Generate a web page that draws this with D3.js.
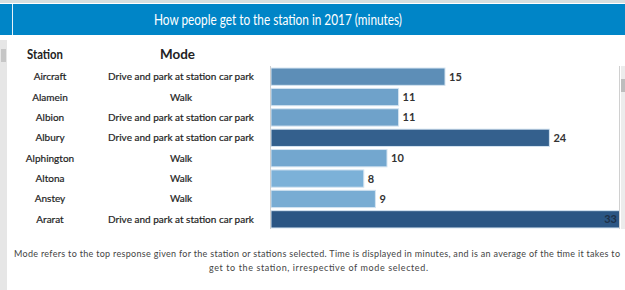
<!DOCTYPE html>
<html>
<head>
<meta charset="utf-8">
<script src="https://cdn.jsdelivr.net/npm/d3@7"></script>
<style>
  body { margin: 0; background: #fff; }
  svg { display: block; }
  text { font-family: "Lato", "Liberation Sans", sans-serif; }
</style>
</head>
<body>
<svg id="chart" width="625" height="290"></svg>
<script>
// data
var stations = ["Aircraft", "Alamein", "Albion", "Albury", "Alphington", "Altona", "Anstey", "Ararat"];
var modes = ["Drive and park at station car park", "Walk", "Drive and park at station car park",
    "Drive and park at station car park", "Walk", "Walk", "Walk", "Drive and park at station car park"];
var minutes = [15, 11, 11, 24, 10, 8, 9, 33];

var titleText = "How people get to the station in 2017 (minutes)";
var noteLines = ["Mode refers to the top response given for the station or stations selected. Time is displayed in minutes, and is an average of the time it takes to",
    "get to the station, irrespective of mode selected."];

var svg = d3.select("#chart");
var W = 625, H = 290;

var rows = stations.map(function (s, i) {
    return {station: s, mode: modes[i], value: minutes[i]};
});

// top strip + header band
svg.append("rect").attr("x", 0).attr("y", 0).attr("width", W).attr("height", 3).attr("fill", "#d6dedf");
svg.append("rect").attr("x", 0).attr("y", 4).attr("width", W).attr("height", 31).attr("fill", "#0085c7");
svg.append("rect").attr("x", 12).attr("y", 4).attr("width", 1).attr("height", 31).attr("fill", "#e8f2f8");
svg.append("text")
    .attr("x", 154).attr("y", 25)
    .attr("fill", "#fff")
    .attr("font-size", 14.5)
    .attr("textLength", 248)
    .attr("lengthAdjust", "spacingAndGlyphs")
    .text(titleText);

// left scroll strip
svg.append("rect").attr("x", 0).attr("y", 40).attr("width", 7).attr("height", H - 40).attr("fill", "#e6e6e6");
svg.append("rect").attr("x", 1).attr("y", 49).attr("width", 5).attr("height", 13).attr("fill", "#c6c6c6");

var y = d3.scaleBand()
    .domain(stations)
    .range([67, 229])
    .paddingInner(0.15)
    .paddingOuter(0.05);

var x = d3.scaleLinear()
    .domain([0, 15])
    .range([271, 445]);

var clipRight = 619;

var color = d3.scaleLinear()
    .domain([8, 26])
    .range(["#7cb1d8", "#2b5684"])
    .clamp(true);

// column headers
svg.append("text").attr("x", 27).attr("y", 59)
    .attr("font-size", 14).attr("font-weight", "bold").attr("fill", "#222")
    .attr("textLength", 36).attr("lengthAdjust", "spacingAndGlyphs").text("Station");
svg.append("text").attr("x", 160).attr("y", 59)
    .attr("font-size", 14).attr("font-weight", "bold").attr("fill", "#222")
    .attr("textLength", 35).attr("lengthAdjust", "spacingAndGlyphs").text("Mode");

svg.append("defs").append("clipPath").attr("id", "pane")
    .append("rect").attr("x", 270).attr("y", 60).attr("width", clipRight - 270).attr("height", 175);

var row = svg.append("g").selectAll("g")
    .data(rows)
    .enter().append("g");

row.append("text")
    .attr("x", 50)
    .attr("y", function (d) { return y(d.station) + y.bandwidth() / 2 + 3.5; })
    .attr("text-anchor", "middle")
    .attr("font-size", 10)
    .attr("fill", "#1e1e1e")
    .attr("stroke", "#1e1e1e")
    .attr("stroke-width", 0.2)
    .text(function (d) { return d.station; });

row.append("text")
    .attr("x", 181)
    .attr("y", function (d) { return y(d.station) + y.bandwidth() / 2 + 3.5; })
    .attr("text-anchor", "middle")
    .attr("font-size", 10)
    .attr("fill", "#1e1e1e")
    .attr("stroke", "#1e1e1e")
    .attr("stroke-width", 0.2)
    .text(function (d) { return d.mode; });

var bars = svg.append("g").attr("clip-path", "url(#pane)");

bars.selectAll("rect")
    .data(rows)
    .enter().append("rect")
    .attr("x", x(0))
    .attr("y", function (d) { return y(d.station); })
    .attr("width", function (d) { return x(d.value) - x(0); })
    .attr("height", y.bandwidth())
    .attr("fill", function (d) { return color(d.value); })
    .attr("stroke", "#d4e4f1")
    .attr("stroke-width", 1);

// value labels (inside the end when the bar runs out of the pane)
function outside(d) { return x(d.value) + 22 > clipRight; }

svg.append("g").selectAll("text")
    .data(rows)
    .enter().append("text")
    .attr("x", function (d) { return outside(d) ? clipRight - 2 : x(d.value) + 4; })
    .attr("text-anchor", function (d) { return outside(d) ? "end" : "start"; })
    .attr("y", function (d) { return y(d.station) + y.bandwidth() / 2 + 4; })
    .attr("font-size", 11)
    .attr("font-weight", "bold")
    .attr("fill", function (d) { return outside(d) ? "#1d3047" : "#333"; })
    .text(function (d) { return d.value; });

// axis line
svg.append("line").attr("x1", 270.5).attr("x2", 270.5).attr("y1", 66).attr("y2", 229)
    .attr("stroke", "#cfcfcf");

// right scroll bar
svg.append("line").attr("x1", 619.5).attr("x2", 619.5).attr("y1", 66).attr("y2", 229).attr("stroke", "#d0d0d0");
svg.append("rect").attr("x", 621).attr("y", 66).attr("width", 4).attr("height", 163).attr("fill", "#ececec");
svg.append("rect").attr("x", 621).attr("y", 79).attr("width", 4).attr("height", 13).attr("fill", "#bdbdbd");

// footnote
svg.append("g").selectAll("text")
    .data(noteLines)
    .enter().append("text")
    .attr("x", function (d, i) { return i == 0 ? 14 : 209; })
    .attr("y", function (d, i) { return 257 + i * 14; })
    .attr("font-size", 9)
    .attr("fill", "#444")
    .attr("textLength", function (d, i) { return i == 0 ? 606 : 219; })
    .attr("lengthAdjust", "spacing")
    .text(function (d) { return d; });
</script>
</body>
</html>
